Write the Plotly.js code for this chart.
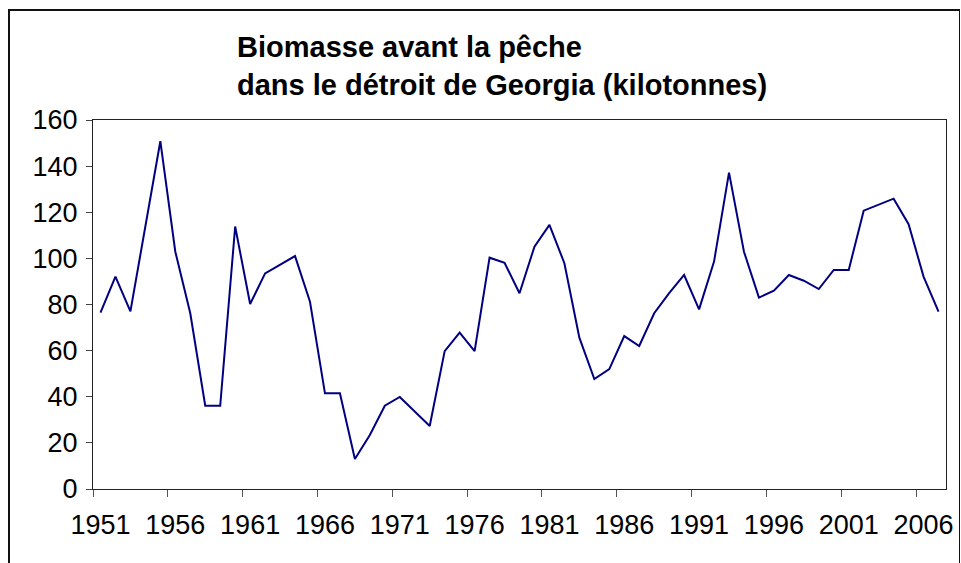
<!DOCTYPE html>
<html>
<head>
<meta charset="utf-8">
<script src="https://cdn.plot.ly/plotly-3.0.1.min.js"></script>
<style>
html,body{margin:0;padding:0;background:#fff;overflow:hidden;}
#chart{position:absolute;left:0;top:0;width:961px;height:563px;}
#frame{position:absolute;left:8px;top:9px;width:949px;height:620px;border-left:2px solid #111;border-top:2px solid #111;border-right:1px solid #111;pointer-events:none;}
</style>
</head>
<body>
<div id="chart"></div>
<div id="frame"></div>
<script>
const years = [1951,1952,1953,1954,1955,1956,1957,1958,1959,1960,
  1961,1962,1963,1964,1965,1966,1967,1968,1969,1970,
  1971,1972,1973,1974,1975,1976,1977,1978,1979,1980,
  1981,1982,1983,1984,1985,1986,1987,1988,1989,1990,
  1991,1992,1993,1994,1995,1996,1997,1998,1999,2000,
  2001,2002,2003,2004,2005,2006,2007];
const biomass = [76.5,92.1,77,114,150.8,102.9,76.2,36.1,36.1,113.8,
  80.2,93.5,97.3,101,81.2,41.5,41.5,13,23.4,36.1,
  39.9,33.6,27.3,59.8,67.8,59.8,100.3,98.1,84.9,105.1,
  114.5,97.9,65.6,47.7,52,66.3,62,76.2,84.9,92.8,
  77.9,98.6,137.2,102.9,83,86,92.8,90.3,86.7,95,
  95,120.7,123.3,125.9,114.8,92.1,76.9];
const tickYears = [1951,1956,1961,1966,1971,1976,1981,1986,1991,1996,2001,2006];
const tickLabels = ["1951","1956","1961","1966","1971","1976","1981","1986","1991","1996","2001","2006"];
const tickBounds = [1950.5,1955.5,1960.5,1965.5,1970.5,1975.5,1980.5,1985.5,1990.5,1995.5,2000.5,2005.5];
const yTicks = [0,20,40,60,80,100,120,140,160];
const titleText = "Biomasse avant la pêche<br>dans le détroit de Georgia (kilotonnes)";

const xRange = [years[0]-0.5, years[years.length-1]+0.5];

const data = [
  {x: years, y: biomass, type: 'scatter', mode: 'lines',
   line: {color: '#000080', width: 2}, hoverinfo: 'x+y', showlegend: false},
  {x: [tickBounds[0]], y: [0], xaxis: 'x2', type: 'scatter', mode: 'markers',
   marker: {opacity: 0}, showlegend: false, hoverinfo: 'skip'}
];

const layout = {
  width: 961, height: 563,
  margin: {l: 93, r: 15, t: 120, b: 74},
  paper_bgcolor: '#fff', plot_bgcolor: '#fff',
  font: {family: 'Arial, "Liberation Sans", sans-serif', color: '#000'},
  title: {text: titleText, x: 237/961, xref: 'container', xanchor: 'left',
          y: 1 - 57/563, yref: 'container', yanchor: 'top',
          font: {size: 29, family: 'Arial, "Liberation Sans", sans-serif', weight: 'bold', color: '#000'}},
  xaxis: {range: xRange, tickvals: tickYears, ticktext: tickLabels, ticks: '',
          showgrid: false, zeroline: false, showline: true, mirror: true,
          linecolor: '#222', linewidth: 1, tickfont: {size: 27}, ticklabelstandoff: 12},
  xaxis2: {range: xRange, overlaying: 'x', anchor: 'y', side: 'bottom', tickvals: tickBounds,
           ticks: 'outside', ticklen: 7, tickcolor: '#555', tickwidth: 1,
           showticklabels: false, showgrid: false, zeroline: false, showline: false},
  yaxis: {range: [0, 160], tickvals: yTicks, ticks: 'outside', ticklen: 6, tickcolor: '#444',
          tickwidth: 1, showgrid: false, zeroline: false, showline: true, mirror: true,
          linecolor: '#222', linewidth: 1, tickfont: {size: 27}, ticklabelstandoff: 3}
};

Plotly.newPlot('chart', data, layout, {displayModeBar: false, staticPlot: true});
</script>
</body>
</html>
